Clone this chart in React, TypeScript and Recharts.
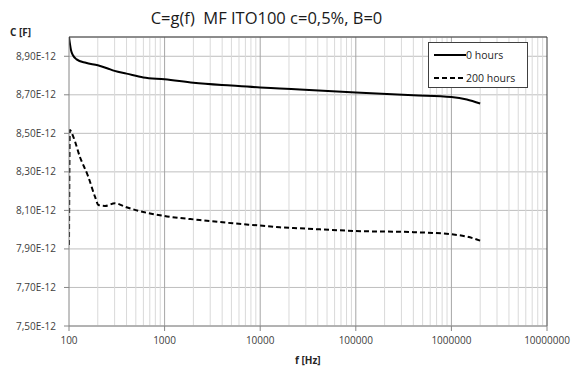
import React from "react";
import {
  LineChart,
  Line,
  XAxis,
  YAxis,
  CartesianGrid,
  ReferenceLine,
} from "recharts";

// frequency [Hz] and capacitance [x1E-12 F]
const freq0h = [100, 105, 110, 120, 150, 200, 250, 300, 400, 600, 1000, 2000, 5000, 10000, 16000, 26000, 100000, 400000, 1000000, 1450000, 2000000];
const cap0h = [9.0, 8.931, 8.905, 8.884, 8.866, 8.853, 8.838, 8.824, 8.81, 8.79, 8.781, 8.763, 8.748, 8.738, 8.733, 8.727, 8.712, 8.698, 8.689, 8.676, 8.655];

const freq200h = [100, 102, 111, 130, 159, 187, 203, 238, 303, 400, 531, 1000, 2340, 5190, 10000, 16000, 26000, 100000, 400000, 1000000, 1450000, 2000000];
const cap200h = [7.92, 8.517, 8.482, 8.378, 8.275, 8.171, 8.128, 8.123, 8.137, 8.116, 8.098, 8.071, 8.05, 8.033, 8.021, 8.012, 8.007, 7.993, 7.987, 7.976, 7.964, 7.943];

const xTicks = [100, 1000, 10000, 100000, 1000000, 10000000];
const yTicks = [7.5, 7.7, 7.9, 8.1, 8.3, 8.5, 8.7, 8.9];
const minorSteps = [2, 3, 4, 5, 6, 7, 8, 9];

const series = [
  { name: "0 hours", f: freq0h, c: cap0h, dash: undefined as string | undefined },
  { name: "200 hours", f: freq200h, c: cap200h, dash: "5 3" },
];

const toRows = (f: number[], c: number[]) => f.map((x, i) => ({ f: x, c: c[i] }));

const minorLines = xTicks.slice(0, -1).flatMap((d) => minorSteps.map((m) => d * m));

const fmtY = (v: number) => v.toFixed(2).replace(".", ",") + "E-12";

const font = "'Open Sans', sans-serif";
const tickStyle = { fontSize: 10, fill: "#404040", fontFamily: font };

function LegendBox() {
  return (
    <div
      style={{
        position: "absolute",
        left: 428,
        top: 42,
        width: 100,
        height: 46,
        border: "1px solid #404040",
        background: "#fff",
        fontFamily: font,
        fontSize: 10.5,
        color: "#262626",
        boxSizing: "border-box",
        paddingTop: 3,
      }}
    >
      {series.map((s) => (
        <div key={s.name} style={{ display: "flex", alignItems: "center", height: 17, marginBottom: 6, paddingLeft: 5 }}>
          <svg width={32} height={4}>
            <line x1={0} y1={2} x2={32} y2={2} stroke="#000" strokeWidth={2} strokeDasharray={s.dash} />
          </svg>
          <span>{s.name}</span>
        </div>
      ))}
    </div>
  );
}

export default function App() {
  return (
    <div style={{ position: "absolute", left: 0, top: 0, width: 574, height: 367, background: "#fff" }}>
      <div
        style={{
          position: "absolute",
          left: 0,
          width: 533,
          top: 6,
          textAlign: "center",
          fontFamily: font,
          fontSize: 16.5,
          color: "#1a1a1a",
          whiteSpace: "pre",
        }}
      >
        {"C=g(f)  MF ITO100 c=0,5%, B=0"}
      </div>
      <div style={{ position: "absolute", left: 10, top: 25, fontFamily: font, fontSize: 10, fontWeight: 700, color: "#262626" }}>
        C [F]
      </div>
      <div style={{ position: "absolute", left: 295, top: 353, fontFamily: font, fontSize: 10, fontWeight: 700, color: "#262626" }}>
        f [Hz]
      </div>
      <LineChart width={574} height={367} margin={{ top: 37, right: 27, left: 9, bottom: 11 }}>
        <CartesianGrid vertical={false} stroke="#bfbfbf" />
        {minorLines.map((v) => (
          <ReferenceLine key={v} x={v} stroke="#d9d9d9" />
        ))}
        {xTicks.slice(1, -1).map((v) => (
          <ReferenceLine key={"M" + v} x={v} stroke="#a6a6a6" />
        ))}
        <ReferenceLine y={9.0} stroke="#3a3a3a" />
        <ReferenceLine x={10000000} stroke="#3a3a3a" />
        <XAxis
          dataKey="f"
          type="number"
          scale="log"
          domain={[100, 10000000]}
          ticks={xTicks}
          allowDataOverflow
          height={30}
          tick={tickStyle}
          tickSize={5}
          tickMargin={6}
          stroke="#868686"
        />
        <YAxis
          type="number"
          domain={[7.5, 9.0]}
          ticks={yTicks}
          allowDataOverflow
          width={60}
          tick={tickStyle}
          tickFormatter={fmtY}
          tickSize={5}
          tickMargin={8}
          stroke="#868686"
        />
        {series.map((s) => (
          <Line
            key={s.name}
            data={toRows(s.f, s.c)}
            dataKey="c"
            name={s.name}
            type="monotone"
            stroke="#000"
            strokeWidth={2}
            strokeDasharray={s.dash}
            dot={false}
            isAnimationActive={false}
          />
        ))}
      </LineChart>
      <LegendBox />
    </div>
  );
}
